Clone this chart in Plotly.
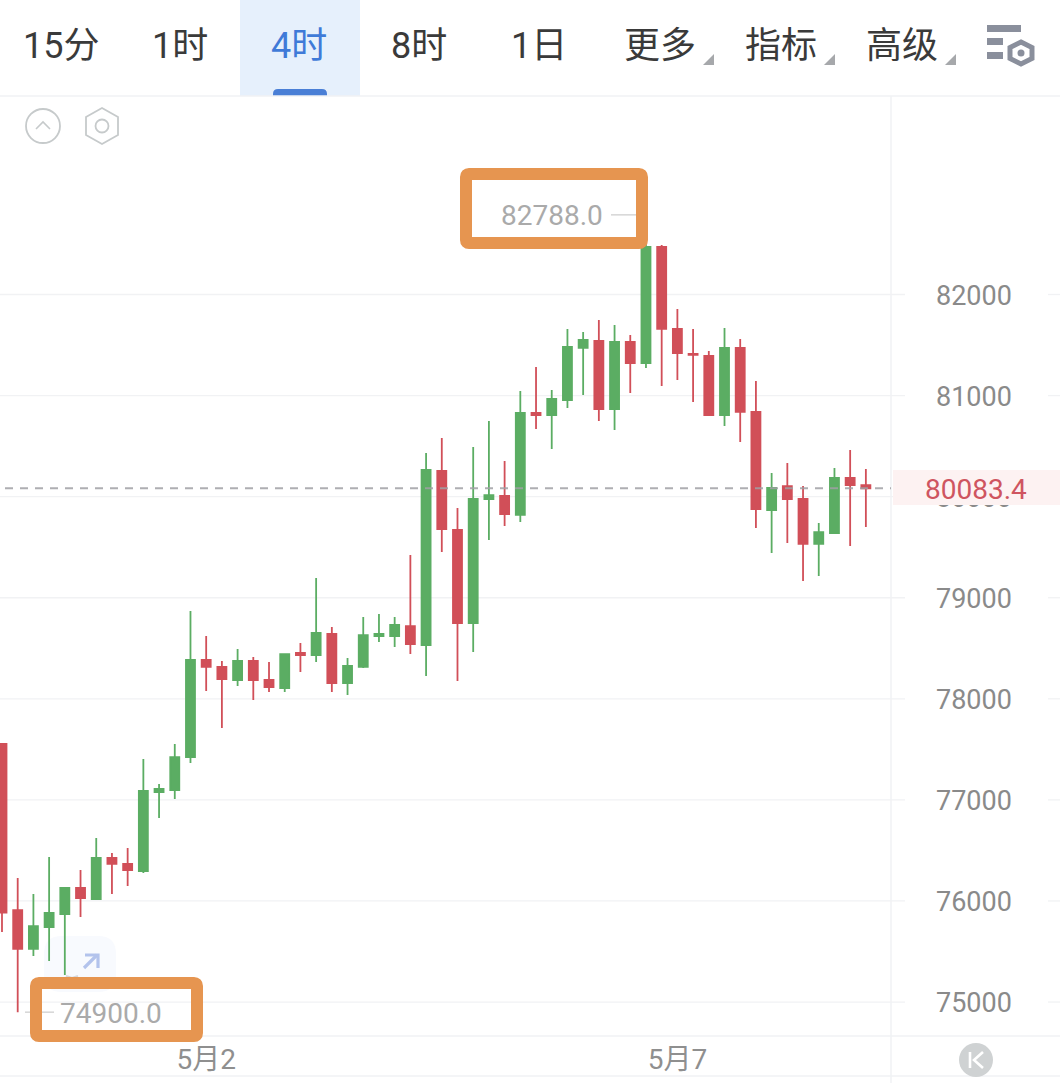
import plotly.graph_objects as go

W, H = 1060, 1083

# ---- data ----
opens = [77553,75910,75525,75742,75871,76128,76019,76425,76366,76296,77078,77098,77424,78384,78315,78186,78374,78186,78107,78453,
         78433,78641,78156,78315,78621,78621,78720,78532,80254,79670,78750,79977,80007,79819,80828,80808,80956,81471,81540,80867,
         81530,81322,82470,81659,81412,81392,80808,81471,80838,79868,80105,79977,79532,79640,80185,80115]
closes = [75884,75525,75752,75881,76128,76029,76425,76366,76306,77088,77108,77424,78384,78315,78196,78374,78186,78117,78443,78433,
          78651,78156,78325,78631,78641,78730,78542,80264,79680,78750,79977,80016,79828,80828,80808,80966,81481,81550,80867,81530,
          81322,82470,81659,81421,81402,80808,81471,80838,79878,80086,79977,79532,79650,80185,80115,80083.4]
highs = [77560,76227,76069,76435,76138,76306,76623,76474,76524,77404,77157,77553,78869,78621,78374,78493,78414,78364,78443,78552,
         79195,78710,78404,78809,78839,78809,79423,80432,80580,79888,80491,80749,80353,81045,81283,81055,81659,81629,81748,81698,
         81600,82788,82490,81857,81659,81441,81669,81560,81144,80234,80333,80105,79739,80284,80462,80274]
lows = [75693,74900,75455,75406,75267,75841,76009,76069,76148,76277,76821,77009,77365,78077,77711,78127,77988,78067,78067,78265,
        78364,78067,78038,78305,78562,78513,78443,78226,79453,78176,78463,79571,79710,79749,80669,80472,80877,81006,80749,80660,
        81026,81273,81095,81154,80937,80798,80699,80541,79690,79443,79542,79166,79215,79640,79512,79700]
positions = list(range(len(opens)))
price_ticks = [75000, 76000, 77000, 78000, 79000, 80000, 81000, 82000]
date_positions = [13, 43]
date_labels = ["5月2", "5月7"]
last_price = 80083.4
max_price, max_pos = 82788.0, 41
min_price, min_pos = 74900.0, 1
toolbar_labels = ["15分", "1时", "4时", "8时", "1日", "更多", "指标", "高级"]
toolbar_centers = [61, 180, 299, 419, 539, 660, 781, 902]

# ---- styling ----
GREEN, RED = "#5bad63", "#d14f58"
GRID = "#f1f2f4"
ORANGE = "#e69550"
FONT = "Roboto, 'Noto Sans CJK SC', sans-serif"

def px(x): return x / W
def py(y): return 1 - y / H

shapes, annotations = [], []

def rect(x0, y0, x1, y1, fill, layer="below"):
    shapes.append(dict(type="rect", xref="paper", yref="paper", x0=px(x0), x1=px(x1), y0=py(y0), y1=py(y1),
                       fillcolor=fill, line=dict(width=0), layer=layer))

def hline_p(x0, x1, y, color=GRID, w=1.5, layer="below"):
    shapes.append(dict(type="line", xref="paper", yref="paper", x0=px(x0), x1=px(x1), y0=py(y), y1=py(y),
                       line=dict(color=color, width=w), layer=layer))

def path(pts, color=None, fill=None, w=0, close=True, layer="above"):
    d = "M " + " L ".join(f"{px(a):.5f},{py(b):.5f}" for a, b in pts) + (" Z" if close else "")
    shapes.append(dict(type="path", xref="paper", yref="paper", path=d,
                       fillcolor=fill if fill else "rgba(0,0,0,0)",
                       line=dict(color=color if color else "rgba(0,0,0,0)", width=w), layer=layer))

def circle(cx, cy, r, color=None, fill=None, w=0, layer="above"):
    shapes.append(dict(type="circle", xref="paper", yref="paper", x0=px(cx - r), x1=px(cx + r), y0=py(cy - r), y1=py(cy + r),
                       fillcolor=fill if fill else "rgba(0,0,0,0)",
                       line=dict(color=color if color else "rgba(0,0,0,0)", width=w), layer=layer))

def hexagon(cx, cy, rx, ry, color, w):
    path([(cx, cy - ry), (cx + rx, cy - ry / 2), (cx + rx, cy + ry / 2), (cx, cy + ry), (cx - rx, cy + ry / 2), (cx - rx, cy - ry / 2)],
         color=color, w=w)

def round_path(x0, y0, x1, y1, r):
    return (f"M {px(x0+r):.5f},{py(y0):.5f} L {px(x1-r):.5f},{py(y0):.5f} Q {px(x1):.5f},{py(y0):.5f} {px(x1):.5f},{py(y0+r):.5f} "
            f"L {px(x1):.5f},{py(y1-r):.5f} Q {px(x1):.5f},{py(y1):.5f} {px(x1-r):.5f},{py(y1):.5f} "
            f"L {px(x0+r):.5f},{py(y1):.5f} Q {px(x0):.5f},{py(y1):.5f} {px(x0):.5f},{py(y1-r):.5f} "
            f"L {px(x0):.5f},{py(y0+r):.5f} Q {px(x0):.5f},{py(y0):.5f} {px(x0+r):.5f},{py(y0):.5f} Z")

def frame(x0, y0, x1, y1):
    shapes.append(dict(type="path", xref="paper", yref="paper", path=round_path(x0, y0, x1, y1, 3),
                       line=dict(color=ORANGE, width=12), fillcolor="rgba(0,0,0,0)", layer="above"))

# toolbar
rect(240, 0, 360, 96, "#e6f0fc")
shapes.append(dict(type="path", xref="paper", yref="paper", path=round_path(273, 89, 327, 102, 5),
                   fillcolor="#4a7fd6", line=dict(width=0), layer="below"))
rect(240, 96, 360, 103, "white")
for lab, cx in zip(toolbar_labels, toolbar_centers):
    annotations.append(dict(text=lab, xref="paper", yref="paper", x=px(cx), y=py(46), xanchor="center", yanchor="middle",
                            showarrow=False, font=dict(family=FONT, size=36, color="#3f7ad8" if lab == "4时" else "#3a3a3a")))
for x1 in (714, 835, 956):
    path([(x1, 54), (x1, 65), (x1 - 11, 65)], fill="#a6a8ab")
ICON = "#8a8f9c"
rect(987, 25, 1021, 32, ICON, "above")
rect(987, 38, 1003, 45, ICON, "above")
rect(987, 52, 1003, 59, ICON, "above")
hexagon(1021, 53, 11, 11, ICON, 5)
circle(1021, 53, 3.5, fill=ICON)

# grid + frame lines
hline_p(0, W, 96)
hline_p(0, W, 1036)
hline_p(0, W, 1076)
shapes.append(dict(type="line", xref="paper", yref="paper", x0=px(891), x1=px(891), y0=py(96), y1=py(H),
                   line=dict(color=GRID, width=1.5), layer="below"))
for t in price_ticks:
    shapes.append(dict(type="line", xref="paper", yref="y", x0=0, x1=px(905), y0=t, y1=t,
                       line=dict(color=GRID, width=1.3), layer="below"))
    shapes.append(dict(type="line", xref="paper", yref="y", x0=px(1048), x1=1, y0=t, y1=t,
                       line=dict(color=GRID, width=1.3), layer="below"))

# top-left icons
circle(43, 126, 17, color="#c6cacb", w=1.8)
path([(36, 129), (43, 122), (50, 129)], color="#c6cacb", w=1.6, close=False)
hexagon(102, 126, 16, 18, "#c6cacb", 1.8)
circle(102, 126, 6.5, color="#c6cacb", w=1.8)

# expand button
shapes.append(dict(type="path", xref="paper", yref="paper", path=round_path(44, 936, 116, 992, 18),
                   fillcolor="#f8fafe", line=dict(width=0), layer="below"))
path([(84, 968), (97, 955)], color="#b3c3ec", w=3.2, close=False)
path([(85, 955), (98, 955), (98, 968)], color="#b3c3ec", w=3.2, close=False)
path([(66, 976), (72, 978), (78, 976)], color="#d6d8dc", w=2, close=False, layer="below")

# last-price line + tag
shapes.append(dict(type="line", xref="paper", yref="y", x0=px(5), x1=px(891), y0=last_price, y1=last_price,
                   line=dict(color="rgba(160,160,165,0.85)", width=2, dash="8px,7px"), layer="above"))
rect(893, 470, W, 505, "#fdf2f2", "above")
annotations.append(dict(text=f"{last_price:.1f}", xref="paper", yref="y", x=px(976), y=last_price, xanchor="center", yanchor="middle",
                        yshift=-1, showarrow=False, font=dict(family=FONT, size=28, color="#cf5560")))

# max / min labels
shapes.append(dict(type="line", xref="paper", yref="y", x0=px(611), x1=px(636), y0=max_price, y1=max_price,
                   line=dict(color="#cfcfcf", width=1.3), layer="above"))
shapes.append(dict(type="line", xref="paper", yref="y", x0=px(25), x1=px(54), y0=min_price, y1=min_price,
                   line=dict(color="#cfcfcf", width=1.3), layer="above"))
annotations.append(dict(text=f"{max_price:.1f}", x=max_pos, y=max_price, xref="x", yref="y", xanchor="right", yanchor="middle",
                        xshift=-41, yshift=-1, showarrow=False, font=dict(family=FONT, size=28, color="#aaaaaa")))
annotations.append(dict(text=f"{min_price:.1f}", x=min_pos, y=min_price, xref="x", yref="y", xanchor="left", yanchor="middle",
                        xshift=40, yshift=-1, showarrow=False, font=dict(family=FONT, size=28, color="#aaaaaa")))

# orange highlight frames
frame(466, 174, 642, 243)
frame(36, 983, 197, 1036)

# K button
circle(976, 1060, 17, fill="#cfd2d3")
path([(970, 1052), (970, 1068)], color="white", w=2.6, close=False)
path([(983, 1052), (974, 1060), (983, 1068)], color="white", w=2.6, close=False)

fig = go.Figure(go.Candlestick(
    x=positions, open=opens, high=highs, low=lows, close=closes,
    increasing=dict(line=dict(color=GREEN, width=1.8), fillcolor=GREEN),
    decreasing=dict(line=dict(color=RED, width=1.8), fillcolor=RED),
    whiskerwidth=0, hoverinfo="skip", showlegend=False,
))

fig.update_layout(
    width=W, height=H, margin=dict(l=0, r=0, t=0, b=0),
    paper_bgcolor="white", plot_bgcolor="rgba(0,0,0,0)", boxgap=0.18,
    shapes=shapes, annotations=annotations, showlegend=False,
    font=dict(family=FONT),
    xaxis=dict(domain=[0, 891 / W], range=[-0.127, 56.6], rangeslider=dict(visible=False),
               tickmode="array", tickvals=date_positions, ticktext=date_labels, showgrid=False, zeroline=False,
               showline=False, ticks="", ticklabelstandoff=4, tickfont=dict(family=FONT, size=28, color="#8f8f8f")),
    yaxis=dict(domain=[1 - 1036 / H, 1 - 97 / H], range=[74664, 83954], side="right",
               tickmode="array", tickvals=price_ticks, ticktext=[str(t) for t in price_ticks],
               showgrid=False, zeroline=False, showline=False, ticks="", ticklabelstandoff=44, ticklabelshift=1,
               tickfont=dict(family=FONT, size=27, color="#8a8a8a")),
)

fig.write_html("out.html", config=dict(displayModeBar=False),
               post_script="document.body.style.margin='0';document.body.style.overflow='hidden';")
